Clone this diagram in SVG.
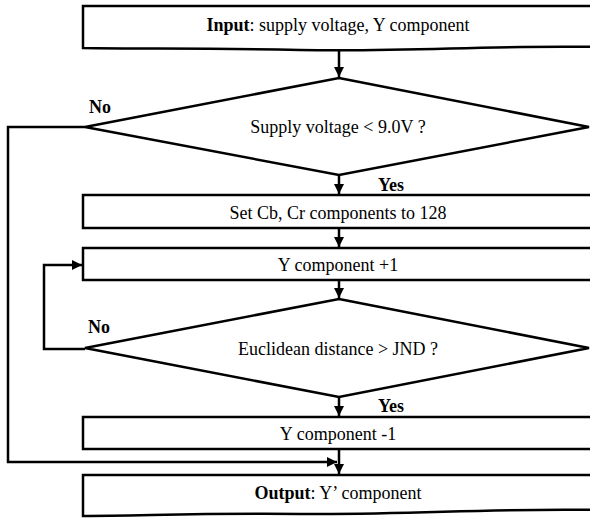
<svg xmlns="http://www.w3.org/2000/svg" width="590" height="518" viewBox="0 0 590 518">
<style>
.s{fill:#fff;stroke:#000;stroke-width:2.5}
.c{fill:none;stroke:#000;stroke-width:2.5}
text{font-family:'Liberation Serif','Times New Roman','DejaVu Serif',serif;font-size:18px;fill:#000}
.t{text-anchor:middle}
.b{font-weight:bold}
</style>
<defs>
<marker id="a" viewBox="0 0 10 10" refX="10" refY="5" markerWidth="4" markerHeight="4" orient="auto" markerUnits="strokeWidth">
<path d="M0,0 L10,5 L0,10 z" fill="#000"/>
</marker>
</defs>
<g id="input">
<path class="s" d="M83,6 L600,6 L600,47 C480,45 420,52 300,50 C200,48 140,49 83,48 Z"/>
<text class="t" x="338" y="31" font-family="Liberation Serif, serif"><tspan font-weight="bold">Input</tspan>: supply voltage, Y component</text>
</g>
<g id="dec1">
<polygon class="s" points="339,78 589,127 339,175 85,127"/>
<text class="t" x="338" y="133" font-family="Liberation Serif, serif">Supply voltage &lt; 9.0V ?</text>
</g>
<g id="setcb">
<rect class="s" x="83" y="195" width="517" height="33"/>
<text class="t" x="338" y="219" font-family="Liberation Serif, serif">Set Cb, Cr components to 128</text>
</g>
<g id="yplus">
<rect class="s" x="83" y="248" width="517" height="32"/>
<text class="t" x="338" y="271" font-family="Liberation Serif, serif">Y component +1</text>
</g>
<g id="dec2">
<polygon class="s" points="339,299 589,348 339,397 85,348"/>
<text class="t" x="338" y="355" font-family="Liberation Serif, serif">Euclidean distance &gt; JND ?</text>
</g>
<g id="yminus">
<rect class="s" x="83" y="417" width="517" height="32"/>
<text class="t" x="338" y="440" font-family="Liberation Serif, serif">Y component -1</text>
</g>
<g id="output">
<path class="s" d="M83,475 L600,475 L600,510 C480,508 420,515 300,514 C200,513 140,516 83,516 Z"/>
<text class="t" x="338" y="499" font-family="Liberation Serif, serif"><tspan font-weight="bold">Output</tspan>: Y’ component</text>
</g>
<g id="connectors">
<path class="c" d="M339,50 L339,77" marker-end="url(#a)"/>
<path class="c" d="M339,175 L339,194" marker-end="url(#a)"/>
<path class="c" d="M339,228 L339,247" marker-end="url(#a)"/>
<path class="c" d="M339,280 L339,298" marker-end="url(#a)"/>
<path class="c" d="M339,397 L339,416" marker-end="url(#a)"/>
<path class="c" d="M339,449 L339,474" marker-end="url(#a)"/>
<path class="c" d="M85,127 L8,127 L8,462 L337,462" marker-end="url(#a)"/>
<path class="c" d="M85,349 L44,349 L44,265 L82,265" marker-end="url(#a)"/>
<text class="b" x="89" y="113" font-family="Liberation Serif, serif">No</text>
<text class="b" x="378" y="191" font-family="Liberation Serif, serif">Yes</text>
<text class="b" x="88" y="333" font-family="Liberation Serif, serif">No</text>
<text class="b" x="378" y="412" font-family="Liberation Serif, serif">Yes</text>
</g>
</svg>
